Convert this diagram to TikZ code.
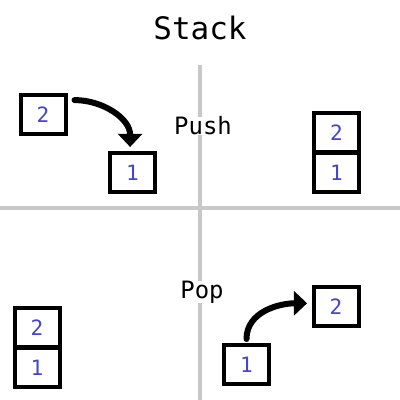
\documentclass[tikz,border=0pt]{standalone}
\usepackage{fontspec}
\setmonofont{DejaVu Sans Mono}
\usetikzlibrary{arrows.meta}
\definecolor{numblue}{RGB}{68,68,210}
\definecolor{axisgrey}{RGB}{200,200,200}
\tikzstyle{item}=[rectangle, draw=black, line width=0.1cm, fill=white, minimum width=1.125cm, minimum height=0.975cm, inner sep=0pt, outer sep=0pt, text=numblue, font=\ttfamily\fontsize{15}{17}\selectfont]
\tikzstyle{caption}=[inner sep=0pt, font=\ttfamily\fontsize{17}{20}\selectfont]
\tikzstyle{heading}=[inner sep=0pt, font=\ttfamily\fontsize{22}{25}\selectfont]
\tikzstyle{axis}=[draw=axisgrey, line width=0.1cm]
\tikzstyle{move}=[draw=black, line width=0.15cm, line cap=round, -{Triangle[width=0.6cm,length=0.33cm]}]

\begin{document}
\begin{tikzpicture}
				\useasboundingbox (0,0) rectangle (10,10);

				%The title
				\draw (5,9.3) node[heading] (title) {Stack};

				%The dividing lines
				\coordinate (vtop) at (5,8.375);
				\coordinate (vbot) at (5,0);
				\coordinate (hleft) at (0,4.8);
				\coordinate (hright) at (10,4.8);
				\draw[axis] (vtop) -- (vbot);
				\draw[axis] (hleft) -- (hright);

				%The push side
				\draw (1.075,7.1375) node[item] (pushnew) {2};
				\draw (3.3125,5.6875) node[item] (pushold) {1};
				\draw (5.075,6.85) node[caption, fill=white] (push) {Push};
				\draw[move] ([xshift=0.225cm,yshift=0.36cm]pushnew.east) to[out=0,in=90] ([xshift=-0.06cm,yshift=0.15cm]pushold.north);

				%The stack after the push
				\draw (8.4125,5.675) node[item] (pushbot) {1};
				\draw (8.4125,6.675) node[item] (pushtop) {2};

				%The stack before the pop
				\draw (0.925,0.8125) node[item] (popbot) {1};
				\draw (0.925,1.8125) node[item] (poptop) {2};

				%The pop side
				\draw (5.05,2.7) node[caption, fill=white] (pop) {Pop};
				\draw (6.1625,0.8875) node[item] (popold) {1};
				\draw (8.4,2.3375) node[item] (popnew) {2};
				\draw[move] ([xshift=0.0cm,yshift=0.15cm]popold.north) to[out=90,in=180] ([xshift=-0.16cm,yshift=0.08cm]popnew.west);
			\end{tikzpicture}
\end{document}
